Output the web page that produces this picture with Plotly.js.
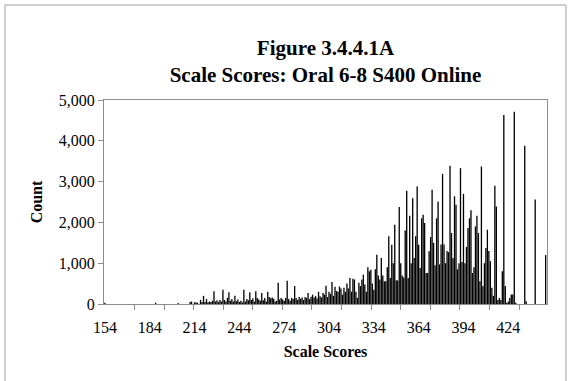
<!DOCTYPE html>
<html>
<head>
<meta charset="utf-8">
<script src="https://cdn.plot.ly/plotly-3.0.1.min.js"></script>
<style>
  html, body { margin: 0; padding: 0; background: #fff; }
  #chart { width: 571px; height: 381px; }
</style>
</head>
<body>
<div id="chart"></div>
<script>
// Scale scores (categories with non-zero counts)
var scores = [
  154, 188, 203, 211, 212, 214, 215, 216, 218, 219,
  220, 221, 222, 223, 224, 225, 226, 227, 228, 229,
  230, 231, 232, 233, 234, 235, 236, 237, 238, 239,
  240, 241, 242, 243, 244, 245, 246, 247, 248, 249,
  250, 251, 252, 253, 254, 255, 256, 257, 258, 259,
  260, 261, 262, 263, 264, 265, 266, 267, 268, 269,
  270, 271, 272, 273, 274, 275, 276, 277, 278, 279,
  280, 281, 282, 283, 284, 285, 286, 287, 288, 289,
  290, 291, 292, 293, 294, 295, 296, 297, 298, 299,
  300, 301, 302, 303, 304, 305, 306, 307, 308, 309,
  310, 311, 312, 313, 314, 315, 316, 317, 318, 319,
  320, 321, 322, 323, 324, 325, 326, 327, 328, 329,
  330, 331, 332, 333, 334, 335, 336, 337, 338, 339,
  340, 341, 342, 343, 344, 345, 346, 347, 348, 349,
  350, 351, 352, 353, 354, 355, 356, 357, 358, 359,
  360, 361, 362, 363, 364, 365, 366, 367, 368, 369,
  370, 371, 372, 373, 374, 375, 376, 377, 378, 379,
  380, 381, 382, 383, 384, 385, 386, 387, 388, 389,
  390, 391, 392, 393, 394, 395, 396, 397, 398, 399,
  400, 401, 402, 403, 404, 405, 406, 407, 408, 409,
  410, 411, 412, 413, 414, 415, 416, 417, 418, 419,
  420, 421, 422, 423, 424, 425, 426, 427, 428, 429,
  435, 436, 442, 449
];
// Counts per scale score
var counts = [
  30, 30, 25, 50, 60, 40, 40, 30, 100, 50,
  200, 50, 120, 40, 60, 50, 80, 310, 60, 90,
  50, 100, 60, 350, 100, 60, 150, 290, 80, 120,
  60, 200, 70, 110, 50, 80, 40, 350, 60, 120,
  90, 290, 100, 140, 60, 310, 150, 110, 80, 270,
  90, 150, 60, 300, 170, 140, 160, 130, 60, 80,
  520, 110, 150, 110, 80, 150, 570, 120, 80, 150,
  120, 440, 150, 100, 170, 130, 160, 100, 170, 150,
  270, 120, 180, 230, 160, 200, 140, 300, 190, 160,
  270, 230, 450, 170, 300, 250, 540, 200, 420, 320,
  300, 430, 380, 230, 400, 300, 500, 380, 640, 300,
  620, 600, 300, 150, 520, 440, 600, 720, 480, 300,
  900, 800, 840, 500, 350, 850, 1210, 700, 600, 1130,
  700, 560, 560, 900, 1660, 640, 1455, 1000, 1940, 580,
  575, 2375, 1000, 700, 650, 1800, 2775, 640, 2160, 1000,
  2590, 1130, 1660, 2880, 1450, 885, 2100, 2190, 1985, 760,
  760, 1290, 1640, 2800, 1500, 950, 2100, 2510, 970, 1460,
  3190, 1460, 1000, 1300, 1270, 3390, 1740, 1130, 2640, 2430,
  850, 1000, 3330, 1030, 2700, 1000, 1400, 1860, 2100, 2300,
  760, 900, 1900, 2160, 1740, 560, 3370, 440, 1000, 1370,
  1820, 1300, 1050, 400, 200, 2900, 2390, 100, 150, 100,
  800, 4630, 440, 30, 60, 150, 230, 230, 4715, 30,
  3880, 70, 2560, 1200
];

var serif = 'Liberation Serif, Times New Roman, serif';
var axisGray = '#8c8c8c';

var trace = {
  type: 'bar',
  x: scores,
  y: counts,
  marker: { color: '#000000', line: { width: 0 } },
  hoverinfo: 'x+y'
};

var layout = {
  width: 571,
  height: 381,
  margin: { l: 104, r: 24, t: 100, b: 77, pad: 0 },
  paper_bgcolor: '#ffffff',
  plot_bgcolor: '#ffffff',
  showlegend: false,
  bargap: 0.12,
  title: {
    text: '<b>Figure 3.4.4.1A</b><br><b>Scale Scores: Oral 6-8 S400 Online</b>',
    font: { family: serif, size: 21, color: '#000' },
    x: 0.5, xref: 'paper', xanchor: 'center',
    y: 1 - 55 / 381, yref: 'container', yanchor: 'middle'
  },
  xaxis: {
    range: [153.4, 449.9],
    tickmode: 'linear', tick0: 154, dtick: 30,
    ticks: '',
    ticklabelstandoff: 9,
    tickfont: { family: serif, size: 16, color: '#000' },
    showline: true, linecolor: axisGray, linewidth: 1, mirror: true,
    showgrid: false, zeroline: false,
    minor: { ticks: 'outside', ticklen: 5, tickcolor: axisGray, tickwidth: 1,
             tick0: 154, dtick: 19.8, showgrid: false },
    title: { text: '<b>Scale Scores</b>', font: { family: serif, size: 16, color: '#000' }, standoff: 10 },
    automargin: false
  },
  yaxis: {
    range: [0, 5000],
    tickmode: 'linear', tick0: 0, dtick: 1000,
    tickformat: ',d',
    ticks: 'outside', ticklen: 5, tickcolor: axisGray,
    tickfont: { family: serif, size: 16, color: '#000' },
    showline: true, linecolor: axisGray, linewidth: 1, mirror: true,
    showgrid: false, zeroline: false,
    title: { text: '<b>Count</b>', font: { family: serif, size: 16, color: '#000' }, standoff: 12 },
    automargin: false
  },
  shapes: [{
    type: 'rect', xref: 'paper', yref: 'paper',
    x0: (5 - 104) / 443, x1: (566 - 104) / 443,
    y0: (304 - 420) / 204, y1: (304 - 5) / 204,
    line: { color: '#a0a0a0', width: 1 }, fillcolor: 'rgba(0,0,0,0)', layer: 'below'
  }]
};

Plotly.newPlot('chart', [trace], layout, { staticPlot: true, displayModeBar: false });
</script>
</body>
</html>
